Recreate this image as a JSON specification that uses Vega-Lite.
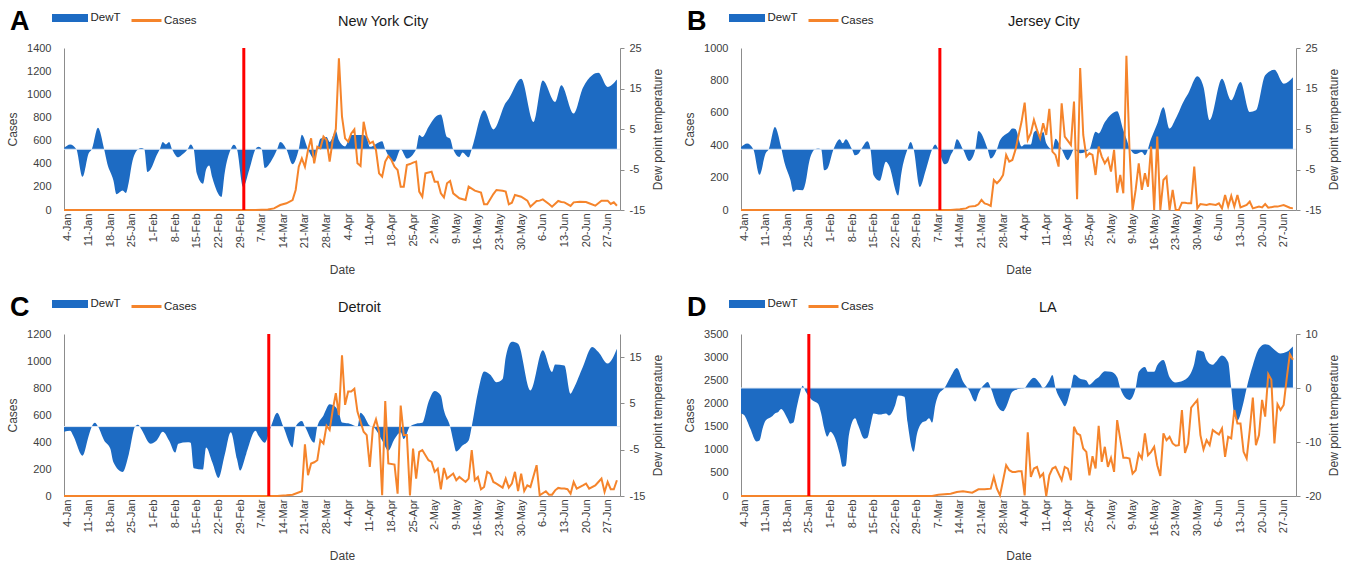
{
"$schema": "https://vega.github.io/schema/vega-lite/v6.json",
"autosize": "none",
"padding": {"left": 64, "top": 48, "right": 1289, "bottom": 517},
"background": "white",
"config": {
  "view": {"stroke": null},
  "font": "Liberation Sans",
  "axis": {"labelFont": "Liberation Sans", "labelFontSize": 11, "labelColor": "#404040", "titleFont": "Liberation Sans", "titleFontSize": 12, "titleFontWeight": "normal", "titleColor": "#404040", "domainColor": "#8c8c8c", "tickColor": "#8c8c8c", "grid": false},
  "axisX": {"format": "%-d-%b", "formatType": "utc", "labelAngle": -90, "labelPadding": 3, "ticks": false, "tickSize": 0, "labelFlush": false, "labelOverlap": false, "titlePadding": 15},
  "legend": {"labelFont": "Liberation Sans", "titleFont": "Liberation Sans", "padding": 0, "rowPadding": 0, "columnPadding": 0, "labelColor": "#262626"}
},
"datasets": {
"nyc_dew": [{"d":"2020-01-03","v":0.3},{"d":"2020-01-05","v":1.2},{"d":"2020-01-07","v":0},{"d":"2020-01-09","v":-6.8},{"d":"2020-01-11","v":-1},{"d":"2020-01-12","v":0},{"d":"2020-01-14","v":5.3},{"d":"2020-01-16","v":0},{"d":"2020-01-17","v":-3.5},{"d":"2020-01-19","v":-7.7},{"d":"2020-01-20","v":-11.1},{"d":"2020-01-22","v":-10.2},{"d":"2020-01-23","v":-10.8},{"d":"2020-01-24","v":-8},{"d":"2020-01-25","v":-3.5},{"d":"2020-01-27","v":0},{"d":"2020-01-28","v":0.3},{"d":"2020-01-29","v":0},{"d":"2020-01-30","v":-5.6},{"d":"2020-01-31","v":-5},{"d":"2020-02-02","v":-1.5},{"d":"2020-02-03","v":0},{"d":"2020-02-04","v":1.8},{"d":"2020-02-05","v":1.2},{"d":"2020-02-06","v":1.8},{"d":"2020-02-07","v":0},{"d":"2020-02-09","v":-2},{"d":"2020-02-10","v":-1.5},{"d":"2020-02-12","v":0},{"d":"2020-02-13","v":1.2},{"d":"2020-02-14","v":0},{"d":"2020-02-15","v":-6},{"d":"2020-02-17","v":-8.5},{"d":"2020-02-18","v":-5},{"d":"2020-02-19","v":-4},{"d":"2020-02-20","v":-7},{"d":"2020-02-23","v":-11.8},{"d":"2020-02-24","v":-6},{"d":"2020-02-26","v":0},{"d":"2020-02-27","v":1.1},{"d":"2020-02-28","v":0},{"d":"2020-03-01","v":-9.3},{"d":"2020-03-03","v":-5},{"d":"2020-03-05","v":0},{"d":"2020-03-06","v":0.6},{"d":"2020-03-07","v":0},{"d":"2020-03-08","v":-4.6},{"d":"2020-03-10","v":-3},{"d":"2020-03-12","v":0},{"d":"2020-03-13","v":1.8},{"d":"2020-03-15","v":0},{"d":"2020-03-17","v":-3.7},{"d":"2020-03-19","v":0},{"d":"2020-03-20","v":3.6},{"d":"2020-03-22","v":0},{"d":"2020-03-24","v":-2.3},{"d":"2020-03-25","v":0},{"d":"2020-03-26","v":2.6},{"d":"2020-03-28","v":3},{"d":"2020-03-29","v":1.8},{"d":"2020-03-31","v":4.5},{"d":"2020-04-01","v":2.2},{"d":"2020-04-03","v":0.7},{"d":"2020-04-05","v":3.5},{"d":"2020-04-09","v":3.5},{"d":"2020-04-10","v":2.9},{"d":"2020-04-11","v":0.6},{"d":"2020-04-15","v":2},{"d":"2020-04-16","v":0},{"d":"2020-04-19","v":-3.1},{"d":"2020-04-21","v":0},{"d":"2020-04-23","v":-2.3},{"d":"2020-04-26","v":0},{"d":"2020-04-27","v":3.5},{"d":"2020-04-28","v":3},{"d":"2020-04-30","v":5.5},{"d":"2020-05-02","v":7.8},{"d":"2020-05-04","v":8.6},{"d":"2020-05-06","v":3},{"d":"2020-05-07","v":2.6},{"d":"2020-05-08","v":0},{"d":"2020-05-10","v":-1.9},{"d":"2020-05-11","v":-0.8},{"d":"2020-05-13","v":-2},{"d":"2020-05-14","v":0},{"d":"2020-05-18","v":9.6},{"d":"2020-05-21","v":4.9},{"d":"2020-05-25","v":11.5},{"d":"2020-05-26","v":12.5},{"d":"2020-05-30","v":17.4},{"d":"2020-06-03","v":6.7},{"d":"2020-06-06","v":17},{"d":"2020-06-10","v":11.7},{"d":"2020-06-12","v":15.8},{"d":"2020-06-16","v":8.8},{"d":"2020-06-19","v":15.2},{"d":"2020-06-22","v":18.3},{"d":"2020-06-24","v":18.9},{"d":"2020-06-27","v":15.4},{"d":"2020-06-30","v":17.2}],
"nyc_cases": [{"d":"2020-01-03","v":0},{"d":"2020-03-05","v":0},{"d":"2020-03-07","v":3},{"d":"2020-03-09","v":5},{"d":"2020-03-11","v":14},{"d":"2020-03-13","v":43},{"d":"2020-03-15","v":58},{"d":"2020-03-17","v":86},{"d":"2020-03-18","v":173},{"d":"2020-03-19","v":374},{"d":"2020-03-20","v":446},{"d":"2020-03-21","v":374},{"d":"2020-03-22","v":518},{"d":"2020-03-23","v":619},{"d":"2020-03-24","v":403},{"d":"2020-03-25","v":547},{"d":"2020-03-26","v":533},{"d":"2020-03-27","v":634},{"d":"2020-03-28","v":605},{"d":"2020-03-29","v":418},{"d":"2020-03-30","v":605},{"d":"2020-03-31","v":700},{"d":"2020-04-01","v":1311},{"d":"2020-04-02","v":806},{"d":"2020-04-03","v":619},{"d":"2020-04-04","v":590},{"d":"2020-04-05","v":662},{"d":"2020-04-06","v":697},{"d":"2020-04-07","v":403},{"d":"2020-04-08","v":380},{"d":"2020-04-09","v":763},{"d":"2020-04-10","v":634},{"d":"2020-04-11","v":576},{"d":"2020-04-12","v":590},{"d":"2020-04-13","v":518},{"d":"2020-04-14","v":317},{"d":"2020-04-15","v":288},{"d":"2020-04-16","v":418},{"d":"2020-04-17","v":467},{"d":"2020-04-18","v":432},{"d":"2020-04-19","v":374},{"d":"2020-04-20","v":346},{"d":"2020-04-21","v":202},{"d":"2020-04-22","v":202},{"d":"2020-04-23","v":389},{"d":"2020-04-24","v":397},{"d":"2020-04-25","v":409},{"d":"2020-04-26","v":418},{"d":"2020-04-27","v":159},{"d":"2020-04-28","v":115},{"d":"2020-04-29","v":317},{"d":"2020-05-01","v":331},{"d":"2020-05-02","v":245},{"d":"2020-05-03","v":245},{"d":"2020-05-04","v":144},{"d":"2020-05-05","v":109},{"d":"2020-05-06","v":231},{"d":"2020-05-07","v":251},{"d":"2020-05-08","v":144},{"d":"2020-05-10","v":101},{"d":"2020-05-12","v":86},{"d":"2020-05-13","v":202},{"d":"2020-05-15","v":167},{"d":"2020-05-17","v":150},{"d":"2020-05-18","v":49},{"d":"2020-05-19","v":49},{"d":"2020-05-21","v":138},{"d":"2020-05-22","v":173},{"d":"2020-05-24","v":167},{"d":"2020-05-25","v":159},{"d":"2020-05-26","v":49},{"d":"2020-05-27","v":63},{"d":"2020-05-28","v":130},{"d":"2020-05-30","v":115},{"d":"2020-06-01","v":81},{"d":"2020-06-02","v":29},{"d":"2020-06-04","v":78},{"d":"2020-06-05","v":81},{"d":"2020-06-06","v":92},{"d":"2020-06-08","v":52},{"d":"2020-06-09","v":29},{"d":"2020-06-11","v":78},{"d":"2020-06-12","v":69},{"d":"2020-06-13","v":66},{"d":"2020-06-15","v":35},{"d":"2020-06-16","v":66},{"d":"2020-06-18","v":72},{"d":"2020-06-20","v":69},{"d":"2020-06-21","v":58},{"d":"2020-06-23","v":37},{"d":"2020-06-25","v":81},{"d":"2020-06-27","v":81},{"d":"2020-06-28","v":52},{"d":"2020-06-29","v":66},{"d":"2020-06-30","v":37}],
"jc_dew": [{"d":"2020-01-03","v":0.5},{"d":"2020-01-05","v":1.4},{"d":"2020-01-07","v":0},{"d":"2020-01-09","v":-6.3},{"d":"2020-01-11","v":-1},{"d":"2020-01-12","v":0},{"d":"2020-01-14","v":5.5},{"d":"2020-01-16","v":0.5},{"d":"2020-01-17","v":-3},{"d":"2020-01-19","v":-7.5},{"d":"2020-01-20","v":-10.5},{"d":"2020-01-21","v":-10},{"d":"2020-01-23","v":-10.1},{"d":"2020-01-24","v":-8},{"d":"2020-01-25","v":-3.5},{"d":"2020-01-27","v":0},{"d":"2020-01-28","v":0.2},{"d":"2020-01-29","v":0},{"d":"2020-01-30","v":-5.2},{"d":"2020-01-31","v":-4.8},{"d":"2020-02-02","v":0},{"d":"2020-02-04","v":2.5},{"d":"2020-02-05","v":1.5},{"d":"2020-02-06","v":2.5},{"d":"2020-02-08","v":0},{"d":"2020-02-09","v":-1.5},{"d":"2020-02-10","v":-1.2},{"d":"2020-02-11","v":0},{"d":"2020-02-13","v":2},{"d":"2020-02-14","v":0},{"d":"2020-02-15","v":-6.4},{"d":"2020-02-17","v":-7.8},{"d":"2020-02-19","v":-3.1},{"d":"2020-02-20","v":-4},{"d":"2020-02-23","v":-11.4},{"d":"2020-02-24","v":-6},{"d":"2020-02-26","v":0},{"d":"2020-02-27","v":1.8},{"d":"2020-02-28","v":0},{"d":"2020-03-01","v":-9.3},{"d":"2020-03-03","v":-5},{"d":"2020-03-05","v":0},{"d":"2020-03-06","v":1.2},{"d":"2020-03-07","v":0},{"d":"2020-03-09","v":-3.7},{"d":"2020-03-10","v":-3.4},{"d":"2020-03-11","v":-1.5},{"d":"2020-03-12","v":0},{"d":"2020-03-13","v":2.5},{"d":"2020-03-15","v":0},{"d":"2020-03-17","v":-2.9},{"d":"2020-03-19","v":0},{"d":"2020-03-20","v":4.5},{"d":"2020-03-23","v":0},{"d":"2020-03-24","v":-2.3},{"d":"2020-03-26","v":0},{"d":"2020-03-27","v":2.2},{"d":"2020-03-30","v":4.3},{"d":"2020-03-31","v":5.1},{"d":"2020-04-01","v":5},{"d":"2020-04-03","v":0.7},{"d":"2020-04-04","v":1.2},{"d":"2020-04-06","v":1.2},{"d":"2020-04-07","v":4.2},{"d":"2020-04-08","v":4.7},{"d":"2020-04-09","v":2.9},{"d":"2020-04-10","v":4.3},{"d":"2020-04-11","v":1.5},{"d":"2020-04-13","v":0},{"d":"2020-04-14","v":2.6},{"d":"2020-04-16","v":0},{"d":"2020-04-18","v":-2.7},{"d":"2020-04-19","v":-1.5},{"d":"2020-04-20","v":0},{"d":"2020-04-22","v":-1},{"d":"2020-04-25","v":0},{"d":"2020-04-27","v":4.3},{"d":"2020-04-28","v":3.9},{"d":"2020-04-30","v":6.7},{"d":"2020-05-02","v":8.6},{"d":"2020-05-04","v":9.4},{"d":"2020-05-06","v":4.7},{"d":"2020-05-07","v":2.6},{"d":"2020-05-08","v":0.4},{"d":"2020-05-10","v":-1.2},{"d":"2020-05-12","v":-0.7},{"d":"2020-05-13","v":-1.5},{"d":"2020-05-15","v":2.6},{"d":"2020-05-17","v":6.3},{"d":"2020-05-19","v":10.4},{"d":"2020-05-21","v":5.1},{"d":"2020-05-23","v":7.6},{"d":"2020-05-26","v":12.5},{"d":"2020-05-27","v":13.7},{"d":"2020-05-30","v":18},{"d":"2020-06-01","v":15.4},{"d":"2020-06-03","v":7.2},{"d":"2020-06-07","v":17.4},{"d":"2020-06-10","v":12.1},{"d":"2020-06-13","v":16.6},{"d":"2020-06-16","v":9.2},{"d":"2020-06-18","v":9.6},{"d":"2020-06-21","v":18.3},{"d":"2020-06-24","v":19.6},{"d":"2020-06-27","v":16.2},{"d":"2020-06-30","v":17.8}],
"jc_cases": [{"d":"2020-01-03","v":0},{"d":"2020-03-11","v":0},{"d":"2020-03-14","v":5},{"d":"2020-03-16","v":10},{"d":"2020-03-17","v":21},{"d":"2020-03-19","v":25},{"d":"2020-03-20","v":35},{"d":"2020-03-21","v":62},{"d":"2020-03-22","v":41},{"d":"2020-03-23","v":35},{"d":"2020-03-24","v":25},{"d":"2020-03-25","v":185},{"d":"2020-03-26","v":165},{"d":"2020-03-27","v":185},{"d":"2020-03-28","v":216},{"d":"2020-03-29","v":340},{"d":"2020-03-30","v":299},{"d":"2020-03-31","v":309},{"d":"2020-04-01","v":371},{"d":"2020-04-03","v":546},{"d":"2020-04-04","v":663},{"d":"2020-04-05","v":433},{"d":"2020-04-06","v":474},{"d":"2020-04-07","v":556},{"d":"2020-04-08","v":494},{"d":"2020-04-09","v":443},{"d":"2020-04-10","v":536},{"d":"2020-04-11","v":463},{"d":"2020-04-12","v":624},{"d":"2020-04-13","v":360},{"d":"2020-04-14","v":340},{"d":"2020-04-15","v":268},{"d":"2020-04-16","v":659},{"d":"2020-04-17","v":453},{"d":"2020-04-19","v":402},{"d":"2020-04-20","v":670},{"d":"2020-04-21","v":66},{"d":"2020-04-22","v":876},{"d":"2020-04-23","v":463},{"d":"2020-04-24","v":330},{"d":"2020-04-25","v":350},{"d":"2020-04-26","v":340},{"d":"2020-04-27","v":216},{"d":"2020-04-28","v":391},{"d":"2020-04-29","v":330},{"d":"2020-04-30","v":288},{"d":"2020-05-01","v":319},{"d":"2020-05-02","v":237},{"d":"2020-05-03","v":371},{"d":"2020-05-04","v":107},{"d":"2020-05-05","v":216},{"d":"2020-05-06","v":103},{"d":"2020-05-07","v":952},{"d":"2020-05-08","v":371},{"d":"2020-05-09","v":0},{"d":"2020-05-10","v":124},{"d":"2020-05-11","v":288},{"d":"2020-05-12","v":124},{"d":"2020-05-13","v":227},{"d":"2020-05-14","v":144},{"d":"2020-05-15","v":391},{"d":"2020-05-16","v":0},{"d":"2020-05-17","v":453},{"d":"2020-05-18","v":0},{"d":"2020-05-19","v":185},{"d":"2020-05-20","v":206},{"d":"2020-05-21","v":0},{"d":"2020-05-22","v":124},{"d":"2020-05-23","v":0},{"d":"2020-05-24","v":0},{"d":"2020-05-25","v":45},{"d":"2020-05-26","v":45},{"d":"2020-05-27","v":41},{"d":"2020-05-28","v":41},{"d":"2020-05-29","v":268},{"d":"2020-05-30","v":10},{"d":"2020-05-31","v":37},{"d":"2020-06-02","v":31},{"d":"2020-06-03","v":37},{"d":"2020-06-05","v":31},{"d":"2020-06-06","v":41},{"d":"2020-06-07","v":10},{"d":"2020-06-08","v":93},{"d":"2020-06-09","v":21},{"d":"2020-06-10","v":87},{"d":"2020-06-11","v":21},{"d":"2020-06-12","v":93},{"d":"2020-06-13","v":16},{"d":"2020-06-15","v":31},{"d":"2020-06-16","v":52},{"d":"2020-06-17","v":10},{"d":"2020-06-19","v":21},{"d":"2020-06-20","v":16},{"d":"2020-06-21","v":37},{"d":"2020-06-22","v":14},{"d":"2020-06-24","v":21},{"d":"2020-06-25","v":21},{"d":"2020-06-27","v":31},{"d":"2020-06-29","v":14},{"d":"2020-06-30","v":10}],
"det_dew": [{"d":"2020-01-03","v":-1.1},{"d":"2020-01-05","v":-0.9},{"d":"2020-01-06","v":-2},{"d":"2020-01-09","v":-6.3},{"d":"2020-01-11","v":-2},{"d":"2020-01-12","v":0},{"d":"2020-01-13","v":0.8},{"d":"2020-01-14","v":0},{"d":"2020-01-16","v":-3},{"d":"2020-01-18","v":-4.8},{"d":"2020-01-19","v":-7.7},{"d":"2020-01-22","v":-9.8},{"d":"2020-01-24","v":-5.9},{"d":"2020-01-26","v":0},{"d":"2020-01-27","v":0.4},{"d":"2020-01-28","v":-0.5},{"d":"2020-01-31","v":-3.7},{"d":"2020-02-02","v":-3},{"d":"2020-02-04","v":-1.1},{"d":"2020-02-06","v":-3},{"d":"2020-02-08","v":-5.6},{"d":"2020-02-09","v":-3.7},{"d":"2020-02-12","v":-3.4},{"d":"2020-02-13","v":-3.5},{"d":"2020-02-14","v":-9},{"d":"2020-02-17","v":-9.3},{"d":"2020-02-18","v":-4.5},{"d":"2020-02-20","v":-7.7},{"d":"2020-02-22","v":-11.1},{"d":"2020-02-24","v":-6.2},{"d":"2020-02-26","v":-1.2},{"d":"2020-02-28","v":-7},{"d":"2020-02-29","v":-9.5},{"d":"2020-03-02","v":-5.9},{"d":"2020-03-05","v":-0.9},{"d":"2020-03-06","v":-2},{"d":"2020-03-08","v":-3.5},{"d":"2020-03-10","v":0},{"d":"2020-03-12","v":3},{"d":"2020-03-14","v":0},{"d":"2020-03-17","v":-4.5},{"d":"2020-03-18","v":0},{"d":"2020-03-20","v":1.2},{"d":"2020-03-21","v":0},{"d":"2020-03-24","v":-3.5},{"d":"2020-03-25","v":0},{"d":"2020-03-27","v":2.4},{"d":"2020-03-29","v":4.8},{"d":"2020-03-31","v":4.2},{"d":"2020-04-01","v":3},{"d":"2020-04-02","v":0.9},{"d":"2020-04-04","v":0.7},{"d":"2020-04-06","v":0.2},{"d":"2020-04-07","v":0},{"d":"2020-04-08","v":3},{"d":"2020-04-09","v":2.4},{"d":"2020-04-11","v":0.2},{"d":"2020-04-12","v":0},{"d":"2020-04-15","v":-3},{"d":"2020-04-17","v":-5.2},{"d":"2020-04-19","v":-2.7},{"d":"2020-04-21","v":-1.2},{"d":"2020-04-22","v":-2.7},{"d":"2020-04-24","v":0},{"d":"2020-04-26","v":0.6},{"d":"2020-04-28","v":0.8},{"d":"2020-04-30","v":5.3},{"d":"2020-05-02","v":7.7},{"d":"2020-05-04","v":6.7},{"d":"2020-05-05","v":3.5},{"d":"2020-05-07","v":0},{"d":"2020-05-08","v":-3},{"d":"2020-05-09","v":-5.4},{"d":"2020-05-11","v":-4.1},{"d":"2020-05-13","v":-3},{"d":"2020-05-14","v":0},{"d":"2020-05-16","v":7.4},{"d":"2020-05-18","v":11.9},{"d":"2020-05-20","v":11.2},{"d":"2020-05-22","v":9.6},{"d":"2020-05-24","v":10.3},{"d":"2020-05-25","v":15},{"d":"2020-05-27","v":18.3},{"d":"2020-05-29","v":17.9},{"d":"2020-06-02","v":7.8},{"d":"2020-06-06","v":16.5},{"d":"2020-06-09","v":11.8},{"d":"2020-06-10","v":13.4},{"d":"2020-06-13","v":13.2},{"d":"2020-06-15","v":7.1},{"d":"2020-06-16","v":8.2},{"d":"2020-06-19","v":12.9},{"d":"2020-06-22","v":17.2},{"d":"2020-06-24","v":16.1},{"d":"2020-06-27","v":13.6},{"d":"2020-06-30","v":16.8}],
"det_cases": [{"d":"2020-01-03","v":0},{"d":"2020-03-12","v":0},{"d":"2020-03-15","v":5},{"d":"2020-03-17","v":10},{"d":"2020-03-20","v":35},{"d":"2020-03-21","v":382},{"d":"2020-03-22","v":154},{"d":"2020-03-23","v":241},{"d":"2020-03-24","v":250},{"d":"2020-03-25","v":265},{"d":"2020-03-26","v":414},{"d":"2020-03-27","v":389},{"d":"2020-03-28","v":521},{"d":"2020-03-29","v":489},{"d":"2020-03-30","v":637},{"d":"2020-03-31","v":761},{"d":"2020-04-01","v":600},{"d":"2020-04-02","v":1042},{"d":"2020-04-03","v":675},{"d":"2020-04-04","v":774},{"d":"2020-04-05","v":774},{"d":"2020-04-06","v":794},{"d":"2020-04-07","v":625},{"d":"2020-04-09","v":476},{"d":"2020-04-10","v":451},{"d":"2020-04-11","v":216},{"d":"2020-04-12","v":501},{"d":"2020-04-13","v":568},{"d":"2020-04-14","v":476},{"d":"2020-04-15","v":5},{"d":"2020-04-16","v":704},{"d":"2020-04-17","v":241},{"d":"2020-04-19","v":233},{"d":"2020-04-20","v":17},{"d":"2020-04-21","v":670},{"d":"2020-04-22","v":451},{"d":"2020-04-23","v":451},{"d":"2020-04-24","v":5},{"d":"2020-04-25","v":352},{"d":"2020-04-26","v":129},{"d":"2020-04-27","v":327},{"d":"2020-04-28","v":340},{"d":"2020-04-30","v":265},{"d":"2020-05-01","v":253},{"d":"2020-05-02","v":179},{"d":"2020-05-03","v":203},{"d":"2020-05-04","v":50},{"d":"2020-05-05","v":208},{"d":"2020-05-06","v":129},{"d":"2020-05-08","v":166},{"d":"2020-05-09","v":117},{"d":"2020-05-10","v":141},{"d":"2020-05-12","v":104},{"d":"2020-05-13","v":129},{"d":"2020-05-14","v":340},{"d":"2020-05-15","v":117},{"d":"2020-05-16","v":141},{"d":"2020-05-17","v":50},{"d":"2020-05-18","v":67},{"d":"2020-05-19","v":179},{"d":"2020-05-20","v":166},{"d":"2020-05-21","v":104},{"d":"2020-05-22","v":92},{"d":"2020-05-24","v":62},{"d":"2020-05-25","v":129},{"d":"2020-05-26","v":62},{"d":"2020-05-27","v":92},{"d":"2020-05-28","v":179},{"d":"2020-05-29","v":37},{"d":"2020-05-30","v":166},{"d":"2020-05-31","v":37},{"d":"2020-06-01","v":79},{"d":"2020-06-02","v":67},{"d":"2020-06-04","v":228},{"d":"2020-06-05","v":5},{"d":"2020-06-07","v":35},{"d":"2020-06-08","v":10},{"d":"2020-06-09","v":10},{"d":"2020-06-10","v":42},{"d":"2020-06-11","v":60},{"d":"2020-06-12","v":55},{"d":"2020-06-13","v":55},{"d":"2020-06-14","v":50},{"d":"2020-06-15","v":17},{"d":"2020-06-16","v":104},{"d":"2020-06-17","v":55},{"d":"2020-06-19","v":79},{"d":"2020-06-20","v":92},{"d":"2020-06-21","v":55},{"d":"2020-06-23","v":79},{"d":"2020-06-24","v":104},{"d":"2020-06-25","v":129},{"d":"2020-06-26","v":30},{"d":"2020-06-27","v":104},{"d":"2020-06-28","v":50},{"d":"2020-06-29","v":50},{"d":"2020-06-30","v":117}],
"la_dew": [{"d":"2020-01-03","v":-4.7},{"d":"2020-01-04","v":-5},{"d":"2020-01-06","v":-7.5},{"d":"2020-01-08","v":-9.9},{"d":"2020-01-09","v":-9.7},{"d":"2020-01-10","v":-7.5},{"d":"2020-01-11","v":-6},{"d":"2020-01-13","v":-5.3},{"d":"2020-01-14","v":-4.7},{"d":"2020-01-15","v":-4.5},{"d":"2020-01-16","v":-3.9},{"d":"2020-01-18","v":-5.6},{"d":"2020-01-19","v":-6.6},{"d":"2020-01-20","v":-6.4},{"d":"2020-01-21","v":-3.8},{"d":"2020-01-22","v":-1.3},{"d":"2020-01-23","v":0.4},{"d":"2020-01-24","v":-0.7},{"d":"2020-01-26","v":-2.2},{"d":"2020-01-28","v":-2.9},{"d":"2020-01-29","v":-4.7},{"d":"2020-01-30","v":-7.5},{"d":"2020-01-31","v":-9},{"d":"2020-02-01","v":-8.1},{"d":"2020-02-02","v":-8.7},{"d":"2020-02-04","v":-12.2},{"d":"2020-02-05","v":-14.6},{"d":"2020-02-06","v":-14.4},{"d":"2020-02-07","v":-8.7},{"d":"2020-02-09","v":-5.6},{"d":"2020-02-10","v":-6.9},{"d":"2020-02-12","v":-9.4},{"d":"2020-02-13","v":-9.2},{"d":"2020-02-14","v":-6.9},{"d":"2020-02-15","v":-4.7},{"d":"2020-02-17","v":-4.9},{"d":"2020-02-19","v":-4.7},{"d":"2020-02-20","v":-5.1},{"d":"2020-02-22","v":-3.2},{"d":"2020-02-23","v":-1.4},{"d":"2020-02-25","v":-1.6},{"d":"2020-02-26","v":-6.3},{"d":"2020-02-28","v":-11.8},{"d":"2020-02-29","v":-8.7},{"d":"2020-03-02","v":-6.3},{"d":"2020-03-03","v":-6.1},{"d":"2020-03-04","v":-5.6},{"d":"2020-03-05","v":-6.4},{"d":"2020-03-06","v":-3.2},{"d":"2020-03-07","v":-1.3},{"d":"2020-03-09","v":0},{"d":"2020-03-11","v":2.1},{"d":"2020-03-13","v":3.7},{"d":"2020-03-15","v":1.2},{"d":"2020-03-17","v":-0.4},{"d":"2020-03-19","v":-2.5},{"d":"2020-03-20","v":-1},{"d":"2020-03-22","v":0.7},{"d":"2020-03-23","v":1.1},{"d":"2020-03-24","v":0},{"d":"2020-03-26","v":-3.2},{"d":"2020-03-28","v":-4.3},{"d":"2020-03-29","v":-3.5},{"d":"2020-03-31","v":-0.7},{"d":"2020-04-02","v":-0.2},{"d":"2020-04-04","v":0},{"d":"2020-04-05","v":0.8},{"d":"2020-04-07","v":1.9},{"d":"2020-04-09","v":0.8},{"d":"2020-04-10","v":0},{"d":"2020-04-12","v":1.4},{"d":"2020-04-13","v":2.4},{"d":"2020-04-14","v":0},{"d":"2020-04-16","v":-2.5},{"d":"2020-04-17","v":-3.4},{"d":"2020-04-19","v":0},{"d":"2020-04-20","v":2.5},{"d":"2020-04-22","v":1.7},{"d":"2020-04-24","v":1.4},{"d":"2020-04-25","v":0.6},{"d":"2020-04-27","v":1.6},{"d":"2020-04-28","v":2},{"d":"2020-04-30","v":3.1},{"d":"2020-05-02","v":3},{"d":"2020-05-04","v":2},{"d":"2020-05-05","v":0},{"d":"2020-05-07","v":-2},{"d":"2020-05-08","v":-2.2},{"d":"2020-05-10","v":0},{"d":"2020-05-11","v":3},{"d":"2020-05-13","v":3.9},{"d":"2020-05-14","v":3},{"d":"2020-05-16","v":3},{"d":"2020-05-17","v":4.2},{"d":"2020-05-19","v":5.2},{"d":"2020-05-21","v":2},{"d":"2020-05-23","v":1},{"d":"2020-05-24","v":1.1},{"d":"2020-05-27","v":2},{"d":"2020-05-29","v":4.5},{"d":"2020-05-30","v":7},{"d":"2020-06-01","v":6.7},{"d":"2020-06-02","v":5.2},{"d":"2020-06-04","v":4.3},{"d":"2020-06-05","v":4.8},{"d":"2020-06-07","v":6},{"d":"2020-06-09","v":4.8},{"d":"2020-06-10","v":0},{"d":"2020-06-11","v":-5},{"d":"2020-06-12","v":-6},{"d":"2020-06-14","v":-2.6},{"d":"2020-06-15","v":0},{"d":"2020-06-17","v":4.2},{"d":"2020-06-19","v":7.3},{"d":"2020-06-21","v":8.1},{"d":"2020-06-22","v":8},{"d":"2020-06-24","v":7.1},{"d":"2020-06-26","v":6.4},{"d":"2020-06-28","v":6.7},{"d":"2020-06-30","v":7.7}],
"la_cases": [{"d":"2020-01-03","v":0},{"d":"2020-03-05","v":0},{"d":"2020-03-07","v":29},{"d":"2020-03-11","v":51},{"d":"2020-03-13","v":87},{"d":"2020-03-15","v":101},{"d":"2020-03-18","v":72},{"d":"2020-03-20","v":145},{"d":"2020-03-22","v":145},{"d":"2020-03-24","v":159},{"d":"2020-03-25","v":412},{"d":"2020-03-26","v":159},{"d":"2020-03-27","v":14},{"d":"2020-03-29","v":665},{"d":"2020-03-30","v":557},{"d":"2020-03-31","v":521},{"d":"2020-04-01","v":521},{"d":"2020-04-02","v":535},{"d":"2020-04-03","v":535},{"d":"2020-04-04","v":14},{"d":"2020-04-05","v":1374},{"d":"2020-04-06","v":412},{"d":"2020-04-07","v":593},{"d":"2020-04-08","v":629},{"d":"2020-04-09","v":412},{"d":"2020-04-10","v":484},{"d":"2020-04-11","v":0},{"d":"2020-04-12","v":448},{"d":"2020-04-13","v":593},{"d":"2020-04-14","v":629},{"d":"2020-04-16","v":340},{"d":"2020-04-17","v":629},{"d":"2020-04-18","v":593},{"d":"2020-04-19","v":340},{"d":"2020-04-20","v":1497},{"d":"2020-04-21","v":1352},{"d":"2020-04-22","v":1316},{"d":"2020-04-23","v":1027},{"d":"2020-04-24","v":954},{"d":"2020-04-25","v":448},{"d":"2020-04-26","v":860},{"d":"2020-04-27","v":593},{"d":"2020-04-28","v":1518},{"d":"2020-04-29","v":737},{"d":"2020-04-30","v":1063},{"d":"2020-05-01","v":629},{"d":"2020-05-02","v":824},{"d":"2020-05-03","v":521},{"d":"2020-05-04","v":1641},{"d":"2020-05-06","v":824},{"d":"2020-05-07","v":824},{"d":"2020-05-08","v":810},{"d":"2020-05-09","v":484},{"d":"2020-05-10","v":557},{"d":"2020-05-11","v":918},{"d":"2020-05-12","v":810},{"d":"2020-05-13","v":1352},{"d":"2020-05-14","v":882},{"d":"2020-05-15","v":954},{"d":"2020-05-16","v":1063},{"d":"2020-05-17","v":665},{"d":"2020-05-18","v":434},{"d":"2020-05-19","v":1352},{"d":"2020-05-20","v":1207},{"d":"2020-05-21","v":1280},{"d":"2020-05-22","v":1135},{"d":"2020-05-23","v":1085},{"d":"2020-05-24","v":1099},{"d":"2020-05-25","v":1858},{"d":"2020-05-26","v":933},{"d":"2020-05-27","v":1135},{"d":"2020-05-28","v":1909},{"d":"2020-05-30","v":2075},{"d":"2020-05-31","v":1316},{"d":"2020-06-01","v":1005},{"d":"2020-06-02","v":1207},{"d":"2020-06-03","v":1099},{"d":"2020-06-04","v":1424},{"d":"2020-06-05","v":1374},{"d":"2020-06-06","v":1330},{"d":"2020-06-07","v":1460},{"d":"2020-06-08","v":846},{"d":"2020-06-09","v":1280},{"d":"2020-06-10","v":1244},{"d":"2020-06-11","v":1858},{"d":"2020-06-12","v":1569},{"d":"2020-06-13","v":1569},{"d":"2020-06-14","v":954},{"d":"2020-06-15","v":810},{"d":"2020-06-16","v":1424},{"d":"2020-06-17","v":2126},{"d":"2020-06-18","v":1099},{"d":"2020-06-19","v":1316},{"d":"2020-06-20","v":2075},{"d":"2020-06-21","v":1714},{"d":"2020-06-22","v":2632},{"d":"2020-06-23","v":2509},{"d":"2020-06-24","v":1135},{"d":"2020-06-25","v":1981},{"d":"2020-06-26","v":1858},{"d":"2020-06-27","v":1967},{"d":"2020-06-28","v":2545},{"d":"2020-06-29","v":3066},{"d":"2020-06-30","v":2943}]
},
"columns": 2,
"spacing": {"row": 124, "column": 121},
"bounds": "flush",
"resolve": {"scale": {"fill": "independent", "stroke": "independent"}, "legend": {"fill": "independent", "stroke": "independent"}},
"concat": [
{
  "width": 556, "height": 162,
  "layer": [
    {"layer": [
      {"data": {"name": "nyc_dew"}, "mark": {"type": "area", "interpolate": "monotone"},
       "encoding": {
         "x": {"field": "d", "type": "temporal", "title": "Date", "scale": {"type": "utc", "domain": [{"year":2020,"month":1,"date":3,"utc":true},{"year":2020,"month":7,"date":1,"utc":true}]},
               "axis": {"tickCount": 40, "labelOverlap": false, "labelBound": false, "values": [{"year":2020,"month":1,"date":4,"utc":true},{"year":2020,"month":1,"date":11,"utc":true},{"year":2020,"month":1,"date":18,"utc":true},{"year":2020,"month":1,"date":25,"utc":true},{"year":2020,"month":2,"date":1,"utc":true},{"year":2020,"month":2,"date":8,"utc":true},{"year":2020,"month":2,"date":15,"utc":true},{"year":2020,"month":2,"date":22,"utc":true},{"year":2020,"month":2,"date":29,"utc":true},{"year":2020,"month":3,"date":7,"utc":true},{"year":2020,"month":3,"date":14,"utc":true},{"year":2020,"month":3,"date":21,"utc":true},{"year":2020,"month":3,"date":28,"utc":true},{"year":2020,"month":4,"date":4,"utc":true},{"year":2020,"month":4,"date":11,"utc":true},{"year":2020,"month":4,"date":18,"utc":true},{"year":2020,"month":4,"date":25,"utc":true},{"year":2020,"month":5,"date":2,"utc":true},{"year":2020,"month":5,"date":9,"utc":true},{"year":2020,"month":5,"date":16,"utc":true},{"year":2020,"month":5,"date":23,"utc":true},{"year":2020,"month":5,"date":30,"utc":true},{"year":2020,"month":6,"date":6,"utc":true},{"year":2020,"month":6,"date":13,"utc":true},{"year":2020,"month":6,"date":20,"utc":true},{"year":2020,"month":6,"date":27,"utc":true}]}},
         "y": {"field": "v", "type": "quantitative", "scale": {"domain": [-15, 25], "nice": false, "zero": false},
               "axis": {"orient": "right", "title": "Dew point temperature", "values": [-15,-10,-5,0,5,10,15,20,25], "labelExpr": "'' + datum.value", "labelOverlap": false, "tickSize": 4, "labelPadding": 5, "titlePadding": 8, "titleAngle": 270, "titleBaseline": "top"}},
         "y2": {"datum": 0},
         "fill": {"datum": "DewT", "type": "nominal", "scale": {"range": ["#1d6bc3"]},
                  "legend": {"title": "A", "orient": "none", "legendX": -54, "legendY": -39, "direction": "horizontal", "titleOrient": "left", "titleBaseline": "line-top", "titleLineHeight": 13, "titleFontSize": 27, "titleFontWeight": "bold", "titleColor": "#000", "titlePadding": 31, "symbolType": "M-2,-0.44L2,-0.44L2,0.44L-2,0.44Z", "symbolSize": 324, "symbolStrokeWidth": 0, "symbolOpacity": 1, "labelFontSize": 11.5, "labelOffset": 11.5}}
       }},
      {"data": {"values": [{}]}, "mark": {"type": "rule", "color": "#dde7f3", "strokeWidth": 1}, "encoding": {"y": {"datum": 0, "type": "quantitative"}}}
    ]},
    {"data": {"name": "nyc_cases"}, "mark": {"type": "line", "strokeWidth": 2},
     "encoding": {
       "x": {"field": "d", "type": "temporal", "title": "Date"},
       "y": {"field": "v", "type": "quantitative", "scale": {"domain": [0, 1400], "nice": false},
             "axis": {"orient": "left", "title": "Cases", "values": [0,200,400,600,800,1000,1200,1400], "format": "d", "labelOverlap": false, "ticks": false, "tickSize": 0, "labelPadding": 13, "titlePadding": 7}},
       "stroke": {"datum": "Cases", "type": "nominal", "scale": {"range": ["#f5842b"]},
                  "legend": {"title": "New York City", "titleOrient": "right", "titlePadding": 141, "titleFontSize": 14.5, "titleFontWeight": "normal", "titleColor": "#1a1a1a", "titleBaseline": "top", "orient": "none", "legendX": 66, "legendY": -44, "symbolType": "stroke", "symbolSize": 900, "symbolStrokeWidth": 3, "labelFontSize": 11.5, "labelOffset": 1}}
     }},
    {"data": {"values": [{"d": "2020-03-01T05:00:00Z"}]}, "mark": {"type": "rule", "color": "#ff0000", "strokeWidth": 3},
     "encoding": {"x": {"field": "d", "type": "temporal", "title": "Date"}}}
  ],
  "resolve": {"scale": {"y": "independent"}}
},
{
  "width": 555, "height": 162,
  "layer": [
    {"layer": [
      {"data": {"name": "jc_dew"}, "mark": {"type": "area", "interpolate": "monotone"},
       "encoding": {
         "x": {"field": "d", "type": "temporal", "title": "Date", "scale": {"type": "utc", "domain": [{"year":2020,"month":1,"date":3,"utc":true},{"year":2020,"month":7,"date":1,"utc":true}]},
               "axis": {"tickCount": 40, "labelOverlap": false, "labelBound": false, "values": [{"year":2020,"month":1,"date":4,"utc":true},{"year":2020,"month":1,"date":11,"utc":true},{"year":2020,"month":1,"date":18,"utc":true},{"year":2020,"month":1,"date":25,"utc":true},{"year":2020,"month":2,"date":1,"utc":true},{"year":2020,"month":2,"date":8,"utc":true},{"year":2020,"month":2,"date":15,"utc":true},{"year":2020,"month":2,"date":22,"utc":true},{"year":2020,"month":2,"date":29,"utc":true},{"year":2020,"month":3,"date":7,"utc":true},{"year":2020,"month":3,"date":14,"utc":true},{"year":2020,"month":3,"date":21,"utc":true},{"year":2020,"month":3,"date":28,"utc":true},{"year":2020,"month":4,"date":4,"utc":true},{"year":2020,"month":4,"date":11,"utc":true},{"year":2020,"month":4,"date":18,"utc":true},{"year":2020,"month":4,"date":25,"utc":true},{"year":2020,"month":5,"date":2,"utc":true},{"year":2020,"month":5,"date":9,"utc":true},{"year":2020,"month":5,"date":16,"utc":true},{"year":2020,"month":5,"date":23,"utc":true},{"year":2020,"month":5,"date":30,"utc":true},{"year":2020,"month":6,"date":6,"utc":true},{"year":2020,"month":6,"date":13,"utc":true},{"year":2020,"month":6,"date":20,"utc":true},{"year":2020,"month":6,"date":27,"utc":true}]}},
         "y": {"field": "v", "type": "quantitative", "scale": {"domain": [-15, 25], "nice": false, "zero": false},
               "axis": {"orient": "right", "title": "Dew point temperature", "values": [-15,-10,-5,0,5,10,15,20,25], "labelExpr": "'' + datum.value", "labelOverlap": false, "tickSize": 4, "labelPadding": 5, "titlePadding": 8, "titleAngle": 270, "titleBaseline": "top"}},
         "y2": {"datum": 0},
         "fill": {"datum": "DewT", "type": "nominal", "scale": {"range": ["#1d6bc3"]},
                  "legend": {"title": "B", "orient": "none", "legendX": -54, "legendY": -39, "direction": "horizontal", "titleOrient": "left", "titleBaseline": "line-top", "titleLineHeight": 13, "titleFontSize": 27, "titleFontWeight": "bold", "titleColor": "#000", "titlePadding": 31, "symbolType": "M-2,-0.44L2,-0.44L2,0.44L-2,0.44Z", "symbolSize": 324, "symbolStrokeWidth": 0, "symbolOpacity": 1, "labelFontSize": 11.5, "labelOffset": 11.5}}
       }},
      {"data": {"values": [{}]}, "mark": {"type": "rule", "color": "#dde7f3", "strokeWidth": 1}, "encoding": {"y": {"datum": 0, "type": "quantitative"}}}
    ]},
    {"data": {"name": "jc_cases"}, "mark": {"type": "line", "strokeWidth": 2},
     "encoding": {
       "x": {"field": "d", "type": "temporal", "title": "Date"},
       "y": {"field": "v", "type": "quantitative", "scale": {"domain": [0, 1000], "nice": false},
             "axis": {"orient": "left", "title": "Cases", "values": [0,200,400,600,800,1000], "format": "d", "labelOverlap": false, "ticks": false, "tickSize": 0, "labelPadding": 13, "titlePadding": 7}},
       "stroke": {"datum": "Cases", "type": "nominal", "scale": {"range": ["#f5842b"]},
                  "legend": {"title": "Jersey City", "titleOrient": "right", "titlePadding": 134, "titleFontSize": 14.5, "titleFontWeight": "normal", "titleColor": "#1a1a1a", "titleBaseline": "top", "orient": "none", "legendX": 66, "legendY": -44, "symbolType": "stroke", "symbolSize": 900, "symbolStrokeWidth": 3, "labelFontSize": 11.5, "labelOffset": 1}}
     }},
    {"data": {"values": [{"d": "2020-03-07T12:00:00Z"}]}, "mark": {"type": "rule", "color": "#ff0000", "strokeWidth": 3},
     "encoding": {"x": {"field": "d", "type": "temporal", "title": "Date"}}}
  ],
  "resolve": {"scale": {"y": "independent"}}
},
{
  "width": 556, "height": 162,
  "layer": [
    {"layer": [
      {"data": {"name": "det_dew"}, "mark": {"type": "area", "interpolate": "monotone"},
       "encoding": {
         "x": {"field": "d", "type": "temporal", "title": "Date", "scale": {"type": "utc", "domain": [{"year":2020,"month":1,"date":3,"utc":true},{"year":2020,"month":7,"date":1,"utc":true}]},
               "axis": {"tickCount": 40, "labelOverlap": false, "labelBound": false, "values": [{"year":2020,"month":1,"date":4,"utc":true},{"year":2020,"month":1,"date":11,"utc":true},{"year":2020,"month":1,"date":18,"utc":true},{"year":2020,"month":1,"date":25,"utc":true},{"year":2020,"month":2,"date":1,"utc":true},{"year":2020,"month":2,"date":8,"utc":true},{"year":2020,"month":2,"date":15,"utc":true},{"year":2020,"month":2,"date":22,"utc":true},{"year":2020,"month":2,"date":29,"utc":true},{"year":2020,"month":3,"date":7,"utc":true},{"year":2020,"month":3,"date":14,"utc":true},{"year":2020,"month":3,"date":21,"utc":true},{"year":2020,"month":3,"date":28,"utc":true},{"year":2020,"month":4,"date":4,"utc":true},{"year":2020,"month":4,"date":11,"utc":true},{"year":2020,"month":4,"date":18,"utc":true},{"year":2020,"month":4,"date":25,"utc":true},{"year":2020,"month":5,"date":2,"utc":true},{"year":2020,"month":5,"date":9,"utc":true},{"year":2020,"month":5,"date":16,"utc":true},{"year":2020,"month":5,"date":23,"utc":true},{"year":2020,"month":5,"date":30,"utc":true},{"year":2020,"month":6,"date":6,"utc":true},{"year":2020,"month":6,"date":13,"utc":true},{"year":2020,"month":6,"date":20,"utc":true},{"year":2020,"month":6,"date":27,"utc":true}]}},
         "y": {"field": "v", "type": "quantitative", "scale": {"domain": [-15, 20], "nice": false, "zero": false},
               "axis": {"orient": "right", "title": "Dew point temperature", "values": [-15,-10,-5,0,5,10,15,20], "labelExpr": "'' + datum.value", "labelOverlap": false, "tickSize": 4, "labelPadding": 5, "titlePadding": 8, "titleAngle": 270, "titleBaseline": "top"}},
         "y2": {"datum": 0},
         "fill": {"datum": "DewT", "type": "nominal", "scale": {"range": ["#1d6bc3"]},
                  "legend": {"title": "C", "orient": "none", "legendX": -54, "legendY": -39, "direction": "horizontal", "titleOrient": "left", "titleBaseline": "line-top", "titleLineHeight": 13, "titleFontSize": 27, "titleFontWeight": "bold", "titleColor": "#000", "titlePadding": 31, "symbolType": "M-2,-0.44L2,-0.44L2,0.44L-2,0.44Z", "symbolSize": 324, "symbolStrokeWidth": 0, "symbolOpacity": 1, "labelFontSize": 11.5, "labelOffset": 11.5}}
       }},
      {"data": {"values": [{}]}, "mark": {"type": "rule", "color": "#dde7f3", "strokeWidth": 1}, "encoding": {"y": {"datum": 0, "type": "quantitative"}}}
    ]},
    {"data": {"name": "det_cases"}, "mark": {"type": "line", "strokeWidth": 2},
     "encoding": {
       "x": {"field": "d", "type": "temporal", "title": "Date"},
       "y": {"field": "v", "type": "quantitative", "scale": {"domain": [0, 1200], "nice": false},
             "axis": {"orient": "left", "title": "Cases", "values": [0,200,400,600,800,1000,1200], "format": "d", "labelOverlap": false, "ticks": false, "tickSize": 0, "labelPadding": 13, "titlePadding": 7}},
       "stroke": {"datum": "Cases", "type": "nominal", "scale": {"range": ["#f5842b"]},
                  "legend": {"title": "Detroit", "titleOrient": "right", "titlePadding": 141, "titleFontSize": 14.5, "titleFontWeight": "normal", "titleColor": "#1a1a1a", "titleBaseline": "top", "orient": "none", "legendX": 66, "legendY": -44, "symbolType": "stroke", "symbolSize": 900, "symbolStrokeWidth": 3, "labelFontSize": 11.5, "labelOffset": 1}}
     }},
    {"data": {"values": [{"d": "2020-03-09T07:00:00Z"}]}, "mark": {"type": "rule", "color": "#ff0000", "strokeWidth": 3},
     "encoding": {"x": {"field": "d", "type": "temporal", "title": "Date"}}}
  ],
  "resolve": {"scale": {"y": "independent"}}
},
{
  "width": 555, "height": 162,
  "layer": [
    {"layer": [
      {"data": {"name": "la_dew"}, "mark": {"type": "area", "interpolate": "monotone"},
       "encoding": {
         "x": {"field": "d", "type": "temporal", "title": "Date", "scale": {"type": "utc", "domain": [{"year":2020,"month":1,"date":3,"utc":true},{"year":2020,"month":7,"date":1,"utc":true}]},
               "axis": {"tickCount": 40, "labelOverlap": false, "labelBound": false, "values": [{"year":2020,"month":1,"date":4,"utc":true},{"year":2020,"month":1,"date":11,"utc":true},{"year":2020,"month":1,"date":18,"utc":true},{"year":2020,"month":1,"date":25,"utc":true},{"year":2020,"month":2,"date":1,"utc":true},{"year":2020,"month":2,"date":8,"utc":true},{"year":2020,"month":2,"date":15,"utc":true},{"year":2020,"month":2,"date":22,"utc":true},{"year":2020,"month":2,"date":29,"utc":true},{"year":2020,"month":3,"date":7,"utc":true},{"year":2020,"month":3,"date":14,"utc":true},{"year":2020,"month":3,"date":21,"utc":true},{"year":2020,"month":3,"date":28,"utc":true},{"year":2020,"month":4,"date":4,"utc":true},{"year":2020,"month":4,"date":11,"utc":true},{"year":2020,"month":4,"date":18,"utc":true},{"year":2020,"month":4,"date":25,"utc":true},{"year":2020,"month":5,"date":2,"utc":true},{"year":2020,"month":5,"date":9,"utc":true},{"year":2020,"month":5,"date":16,"utc":true},{"year":2020,"month":5,"date":23,"utc":true},{"year":2020,"month":5,"date":30,"utc":true},{"year":2020,"month":6,"date":6,"utc":true},{"year":2020,"month":6,"date":13,"utc":true},{"year":2020,"month":6,"date":20,"utc":true},{"year":2020,"month":6,"date":27,"utc":true}]}},
         "y": {"field": "v", "type": "quantitative", "scale": {"domain": [-20, 10], "nice": false, "zero": false},
               "axis": {"orient": "right", "title": "Dew point temperature", "values": [-20,-15,-10,-5,0,5,10], "labelExpr": "'' + datum.value", "labelOverlap": false, "tickSize": 4, "labelPadding": 5, "titlePadding": 8, "titleAngle": 270, "titleBaseline": "top"}},
         "y2": {"datum": 0},
         "fill": {"datum": "DewT", "type": "nominal", "scale": {"range": ["#1d6bc3"]},
                  "legend": {"title": "D", "orient": "none", "legendX": -54, "legendY": -39, "direction": "horizontal", "titleOrient": "left", "titleBaseline": "line-top", "titleLineHeight": 13, "titleFontSize": 27, "titleFontWeight": "bold", "titleColor": "#000", "titlePadding": 31, "symbolType": "M-2,-0.44L2,-0.44L2,0.44L-2,0.44Z", "symbolSize": 324, "symbolStrokeWidth": 0, "symbolOpacity": 1, "labelFontSize": 11.5, "labelOffset": 11.5}}
       }},
      {"data": {"values": [{}]}, "mark": {"type": "rule", "color": "#dde7f3", "strokeWidth": 1}, "encoding": {"y": {"datum": 0, "type": "quantitative"}}}
    ]},
    {"data": {"name": "la_cases"}, "mark": {"type": "line", "strokeWidth": 2},
     "encoding": {
       "x": {"field": "d", "type": "temporal", "title": "Date"},
       "y": {"field": "v", "type": "quantitative", "scale": {"domain": [0, 3500], "nice": false},
             "axis": {"orient": "left", "title": "Cases", "values": [0,500,1000,1500,2000,2500,3000,3500], "format": "d", "labelOverlap": false, "ticks": false, "tickSize": 0, "labelPadding": 13, "titlePadding": 7}},
       "stroke": {"datum": "Cases", "type": "nominal", "scale": {"range": ["#f5842b"]},
                  "legend": {"title": "LA", "titleOrient": "right", "titlePadding": 165, "titleFontSize": 14.5, "titleFontWeight": "normal", "titleColor": "#1a1a1a", "titleBaseline": "top", "orient": "none", "legendX": 66, "legendY": -44, "symbolType": "stroke", "symbolSize": 900, "symbolStrokeWidth": 3, "labelFontSize": 11.5, "labelOffset": 1}}
     }},
    {"data": {"values": [{"d": "2020-01-25T00:00:00Z"}]}, "mark": {"type": "rule", "color": "#ff0000", "strokeWidth": 3},
     "encoding": {"x": {"field": "d", "type": "temporal", "title": "Date"}}}
  ],
  "resolve": {"scale": {"y": "independent"}}
}
]
}
